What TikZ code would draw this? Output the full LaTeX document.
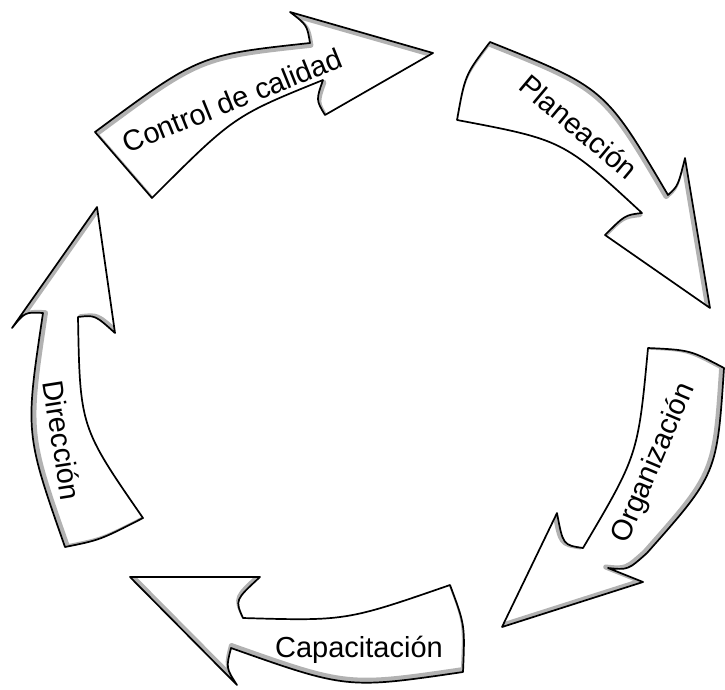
\documentclass[tikz,border=0pt]{standalone}
\usepackage{fontspec}
\setmainfont{Liberation Sans}
% #1 shift of the grey rim towards the middle, #2 outline of the arrow
\newcommand\cyclearrow[2]{%
  \begin{scope}
    \clip #2;
    \draw[arrow rim, shift={#1}] #2;
  \end{scope}
  \draw[arrow line] #2;}
\begin{document}
\begin{tikzpicture}
  [x=1pt, y=-1pt,
   arrow rim/.style={draw=gray!60, line width=5pt, line join=round},
   arrow line/.style={draw=black, line width=1.7pt, line join=round},
   stage/.style={font=\fontsize{29}{34}\selectfont, anchor=base, inner sep=0pt}]
  \path[use as bounding box] (0,0) rectangle (725,689);

  % control de calidad
  \cyclearrow{(0.9,2.3)}{(95,132) -- (152,198) .. controls (234,116) .. (323,80)
    .. controls (316,100) .. (325,115) -- (433,53) -- (290,12)
    .. controls (307,25) .. (310,43) .. controls (199,55) .. (95,132) -- cycle}
  % planeacion
  \cyclearrow{(-1.9,1.6)}{(490,42) .. controls (465,75) .. (457,120)
    .. controls (563,140) .. (642,213) .. controls (625,215) .. (605,235)
    -- (710,308) -- (685,158) .. controls (678,186) .. (668,195)
    .. controls (605,88) .. (490,42) -- cycle}
  % organizacion
  \cyclearrow{(-2.3,-1)}{(648,348) .. controls (690,350) .. (724,368)
    .. controls (717,474) .. (647,553) .. controls (628,570) .. (608,568)
    -- (643,582) -- (502,627) -- (557,513) .. controls (563,545) .. (583,548)
    .. controls (638,455) .. (648,348) -- cycle}
  % capacitacion
  \cyclearrow{(0.4,-2.5)}{(130,577) -- (260,577) .. controls (235,600) .. (243,618)
    .. controls (346,621) .. (450,585) .. controls (465,625) .. (463,672)
    .. controls (347,689) .. (231,648) .. controls (226,668) .. (237,685)
    -- (130,577) -- cycle}
  % direccion
  \cyclearrow{(2.5,-0.3)}{(97,207) -- (115,333) .. controls (95,315) .. (78,317)
    .. controls (80,427) .. (143,518) .. controls (100,540) .. (65,547)
    .. controls (25,433) .. (43,313) .. controls (25,312) .. (12,328)
    -- (97,207) -- cycle}

  \node[stage, rotate=22] (control) at (236,110) {Control de calidad};
  \node[stage, rotate=-40] (planeacion) at (572,135) {Planeación};
  \node[stage, rotate=67] (organizacion) at (661,466) {Organización};
  \node[stage] (capacitacion) at (359,657) {Capacitación};
  \node[stage, rotate=-81] (direccion) at (52,442) {Dirección};
\end{tikzpicture}
\end{document}
